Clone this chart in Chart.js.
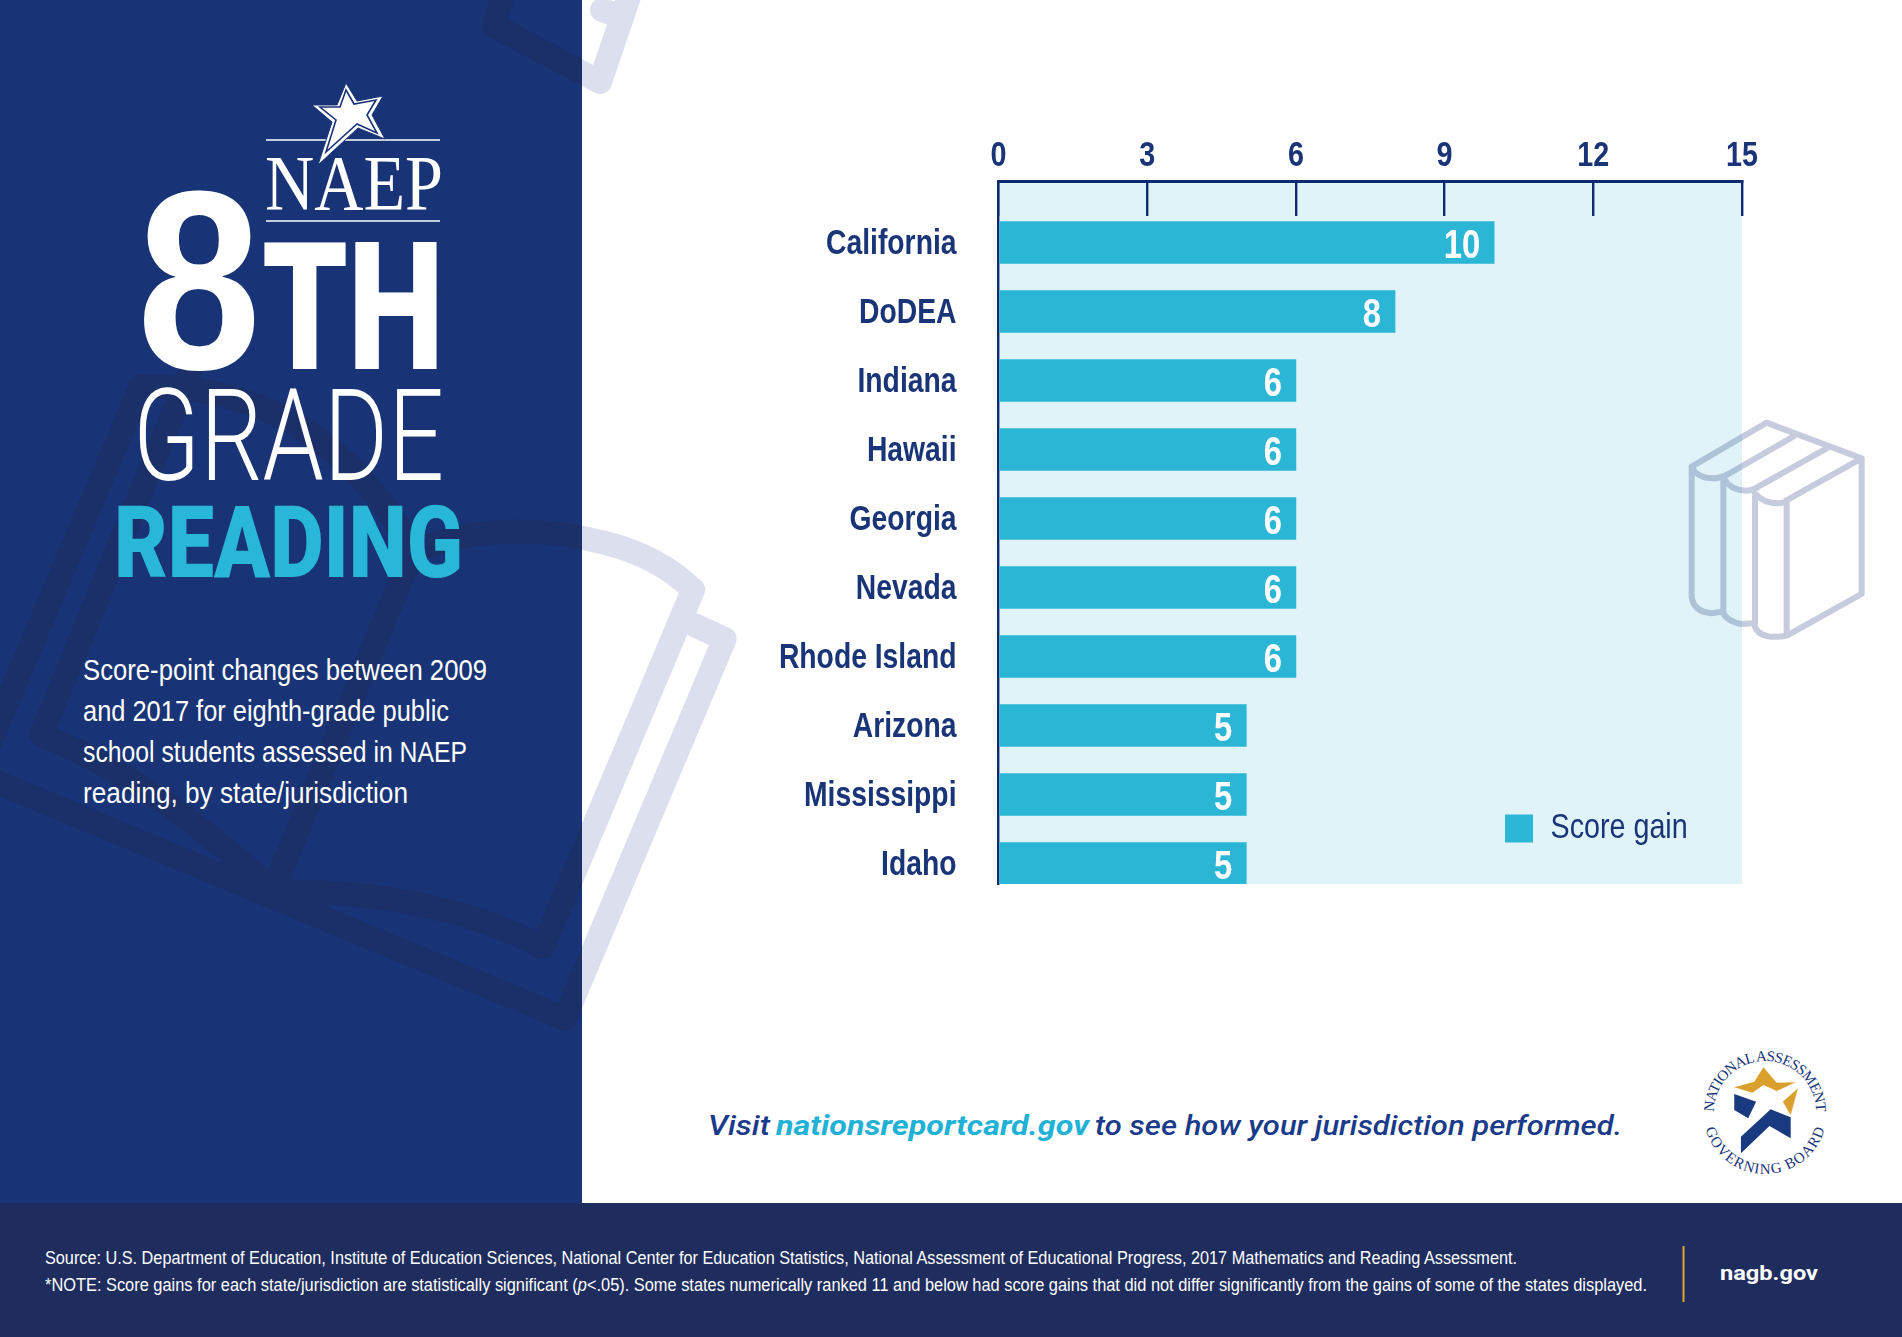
<!DOCTYPE html>
<html lang="en">
<head>
<meta charset="utf-8">
<title>8th Grade Reading</title>
<script src="https://cdn.jsdelivr.net/npm/chart.js@4/dist/chart.umd.min.js"></script>
<style>
html,body{margin:0;padding:0;background:#fff;width:1902px;height:1337px;overflow:hidden}
#bg,#fg,#c{position:absolute;left:0;top:0}
#fg{pointer-events:none}
.ns{vector-effect:non-scaling-stroke;fill:none;stroke-linejoin:round;stroke-linecap:round}
.narrow{font-family:"Liberation Sans",sans-serif}
</style>
</head>
<body>
<svg id="bg" width="1902" height="1337" viewBox="0 0 1902 1337" xmlns="http://www.w3.org/2000/svg">
  <defs>
    <clipPath id="panelClip"><rect x="0" y="0" width="582" height="1203"/></clipPath>
    <g id="deco" stroke-width="24">
      <g transform="translate(0,360) scale(.4847,.4464)">
        <path class="ns" d="M290,60 L-30,880"/>
        <path class="ns" d="M290,60 Q650,50 850,420"/>
        <path class="ns" d="M395,20 L85,840 Q300,930 545,1170"/>
        <path class="ns" d="M855,420 L570,1170"/>
        <path class="ns" d="M850,430 Q1030,350 1250,410 Q1360,440 1430,515 L1120,1315 Q900,1190 575,1190"/>
        <path class="ns" d="M-30,935 L1165,1475 L1495,625 L1435,595"/>
      </g>
      <path class="ns" d="M505,-12 L494,26 L600,82 L632,-12"/>
      <path class="ns" d="M602,10 L620,16"/>
    </g>
  </defs>
  <use href="#deco" stroke="#dce0ee"/>
  <rect x="0" y="0" width="582" height="1203" fill="#193476"/>
  <g clip-path="url(#panelClip)"><use href="#deco" stroke="#1b2f68"/></g>
  <rect x="0" y="1203" width="1902" height="134" fill="#1f2d5e"/>

  <!-- NAEP mark -->
  <line x1="266" y1="140" x2="440" y2="140" stroke="#fff" stroke-width="1.6"/>
  <line x1="266" y1="221" x2="440" y2="221" stroke="#fff" stroke-width="1.6"/>
  <polygon points="346,83 357,101 383,96 372,115 385,139 358,128 318,165 332,122 312,105 337,105" fill="#fff" stroke="#193476" stroke-width="1"/>
  <polygon points="346,90 354,104 376,100 367,115 377,133 357,124 326,152 336,120 320,107 340,107" fill="none" stroke="#193476" stroke-width="1.6"/>
  <text x="265" y="209" font-family="Liberation Serif" font-size="78" fill="#fff" textLength="178" lengthAdjust="spacingAndGlyphs">NAEP</text>

  <!-- Title -->
  <text x="137" y="369" font-family="Liberation Sans" font-weight="700" font-size="255" fill="#fff" textLength="124" lengthAdjust="spacingAndGlyphs">8</text>
  <text x="262" y="369" font-family="Roboto" font-weight="900" font-size="178" fill="#fff" textLength="182" lengthAdjust="spacingAndGlyphs">TH</text>
  <text x="133" y="480" font-family="Roboto" font-weight="300" font-size="128" fill="#fff" textLength="311" lengthAdjust="spacingAndGlyphs">GRADE</text>
  <text x="114" y="577" font-family="Roboto" font-weight="900" font-size="100" fill="#29b7d7" textLength="349" lengthAdjust="spacingAndGlyphs">READING</text>

  <!-- Description -->
  <g class="narrow" font-size="30" fill="#fff">
    <text x="83" y="680" textLength="404" lengthAdjust="spacingAndGlyphs">Score-point changes between 2009</text>
    <text x="83" y="721" textLength="366" lengthAdjust="spacingAndGlyphs">and 2017 for eighth-grade public</text>
    <text x="83" y="762" textLength="384" lengthAdjust="spacingAndGlyphs">school students assessed in NAEP</text>
    <text x="83" y="803" textLength="325" lengthAdjust="spacingAndGlyphs">reading, by state/jurisdiction</text>
  </g>

  <!-- Visit line -->
  <g font-family="Roboto" font-style="italic" font-size="28">
    <text x="708" y="1135" font-weight="500" fill="#1a3a8a" textLength="62" lengthAdjust="spacingAndGlyphs">Visit</text>
    <text x="776" y="1135" font-weight="700" fill="#1fb2d6" textLength="313" lengthAdjust="spacingAndGlyphs">nationsreportcard.gov</text>
    <text x="1095" y="1135" font-weight="500" fill="#1a3a8a" textLength="527" lengthAdjust="spacingAndGlyphs">to see how your jurisdiction performed.</text>
  </g>

  <!-- Seal -->
  <defs>
    <path id="arcTop" d="M1714,1112 A51,51 0 0 1 1816,1112"/>
    <path id="arcBot" d="M1703,1112 A62,62 0 0 0 1827,1112"/>
  </defs>
  <text font-family="Liberation Serif" font-size="15" fill="#1a3478"><textPath href="#arcTop" startOffset="50%" text-anchor="middle" textLength="160" lengthAdjust="spacing">NATIONAL ASSESSMENT</textPath></text>
  <text font-family="Liberation Serif" font-size="15" fill="#1a3478"><textPath href="#arcBot" startOffset="50%" text-anchor="middle" textLength="160" lengthAdjust="spacing">GOVERNING BOARD</textPath></text>
  <g transform="translate(950,1030) scale(.607,.3333)">
    <polygon points="1340,112 1362,158 1393,157 1362,183 1340,165 1322,188 1292,172 1325,155" fill="#d9a02e"/>
    <polygon points="1397,175 1385,255 1372,215" fill="#d9a02e"/>
    <polygon points="1292,192 1328,215 1315,265 1292,240" fill="#1a3a80"/>
    <polygon points="1352,238 1385,262 1385,325 1350,288 1303,370 1303,320" fill="#1a3a80"/>
  </g>

  <!-- Footer -->
  <g class="narrow" font-size="17.5" fill="#fff">
    <text x="45" y="1264" textLength="1472" lengthAdjust="spacingAndGlyphs">Source: U.S. Department of Education, Institute of Education Sciences, National Center for Education Statistics, National Assessment of Educational Progress, 2017 Mathematics  and Reading Assessment.</text>
    <text x="45" y="1291" textLength="1602" lengthAdjust="spacingAndGlyphs">*NOTE: Score gains for each state/jurisdiction are statistically significant (<tspan font-style="italic">p</tspan>&lt;.05). Some states numerically ranked 11 and below had score gains that did not differ significantly from the gains of some of the states displayed.</text>
  </g>
  <line x1="1683.5" y1="1246" x2="1683.5" y2="1302" stroke="#e0a52c" stroke-width="2"/>
  <text x="1720" y="1280" font-family="Roboto" font-weight="700" font-size="21" fill="#fff" textLength="98" lengthAdjust="spacingAndGlyphs">nagb.gov</text>
</svg>

<canvas id="c" width="1902" height="1337"></canvas>

<svg id="fg" width="1902" height="1337" viewBox="0 0 1902 1337" xmlns="http://www.w3.org/2000/svg">
  <g transform="translate(1670,400) scale(.3333)" fill="none" stroke="#1b3478" stroke-opacity=".25" stroke-width="18" stroke-linejoin="round" stroke-linecap="round">
    <path d="M65,200 L290,68 L575,175 L575,582 L352,706 Q335,712 300,710 Q258,705 252,670 L215,672 Q170,665 158,635 L125,640 Q70,635 65,590 Z M65,200 Q80,235 130,235 Q150,235 175,222 L370,110 M165,240 Q180,270 230,272 Q250,270 265,260 L470,145 M255,280 Q280,310 325,310 Q345,310 360,295 L575,175 M160,240 L160,635 M255,290 L255,670 M350,300 L350,705"/>
  </g>
</svg>

<script>
const categories = ["California","DoDEA","Indiana","Hawaii","Georgia","Nevada","Rhode Island","Arizona","Mississippi","Idaho"];
const scoreGains = [10,8,6,6,6,6,6,5,5,5];
const xTicks = [0,3,6,9,12,15];
const seriesName = "Score gain";

const NAVY = "#1a3478", AXIS = "#0f2a70", BAR = "#2bb6d6", PLOT = "#dff3f9";
const FONT = '"Liberation Sans",sans-serif';
const CONDENSE = 0.82;

// No condensed face is installed, so every canvas label is narrowed horizontally around its own anchor.
const canvas = document.getElementById("c");
const ctx2d = canvas.getContext("2d");
const rawFillText = ctx2d.fillText.bind(ctx2d);
ctx2d.fillText = function (text, x, y) {
  ctx2d.save();
  ctx2d.translate(x, y);
  ctx2d.scale(CONDENSE, 1);
  rawFillText(text, 0, 0);
  ctx2d.restore();
};

const plotBackground = {
  id: "plotBackground",
  beforeDraw(chart) {
    const a = chart.chartArea, g = chart.ctx;
    g.save(); g.fillStyle = PLOT;
    g.fillRect(a.left, a.top, a.right - a.left, a.bottom - a.top);
    g.restore();
  }
};
const legendPlacement = {
  id: "legendPlacement",
  afterLayout(chart) {
    const l = chart.legend;
    const w = l.right - l.left, h = l.bottom - l.top;
    l.left = 1505; l.right = 1505 + w; l.top = 811; l.bottom = 811 + h;
  }
};
const valueLabels = {
  id: "valueLabels",
  afterDatasetsDraw(chart) {
    const g = chart.ctx, meta = chart.getDatasetMeta(0);
    g.save();
    g.fillStyle = "#fff";
    g.font = "700 40px " + FONT;
    g.textAlign = "right";
    g.textBaseline = "middle";
    meta.data.forEach((bar, i) => g.fillText(String(scoreGains[i]), bar.x - 14, bar.y + 4));
    g.restore();
  }
};

new Chart(canvas, {
  type: "bar",
  data: {
    datasets: [{
      label: seriesName,
      data: scoreGains.map((v, i) => ({ x: v, y: i })),
      backgroundColor: BAR,
      borderWidth: 0,
      barThickness: 42
    }]
  },
  options: {
    indexAxis: "y",
    responsive: false,
    animation: false,
    layout: { padding: { top: 81, left: 0, right: 160, bottom: 453 } },
    plugins: {
      legend: {
        display: true,
        position: "chartArea",
        align: "start",
        labels: { boxWidth: 28, boxHeight: 28, padding: 0, color: NAVY, font: { family: FONT, size: 35 } }
      },
      tooltip: { enabled: false },
      title: { display: false }
    },
    scales: {
      x: {
        position: "top",
        type: "linear",
        min: 0, max: 15,
        afterBuildTicks(s) { s.ticks = xTicks.map(v => ({ value: v })); },
        afterFit(s) { s.height = 100; },
        border: { display: true, color: AXIS, width: 3 },
        grid: { drawOnChartArea: false, drawTicks: true, tickLength: -35, color: AXIS, lineWidth: 2.4 },
        ticks: { autoSkip: false, maxRotation: 0, padding: 39, color: NAVY, font: { family: FONT, weight: "700", size: 35 } }
      },
      y: {
        type: "linear",
        reverse: true,
        offset: false,
        min: -0.891, max: 9.297,
        afterBuildTicks(s) { s.ticks = categories.map((_, i) => ({ value: i })); },
        afterFit(s) { s.width = 998.5; },
        border: { display: true, color: AXIS, width: 2.4 },
        grid: { display: false, offset: false, drawTicks: false, tickLength: 0 },
        ticks: {
          autoSkip: false, padding: 42, labelOffset: 2, color: NAVY,
          font: { family: FONT, weight: "700", size: 34.5 },
          callback: v => categories[v]
        }
      }
    }
  },
  plugins: [plotBackground, legendPlacement, valueLabels]
});
</script>
</body>
</html>
